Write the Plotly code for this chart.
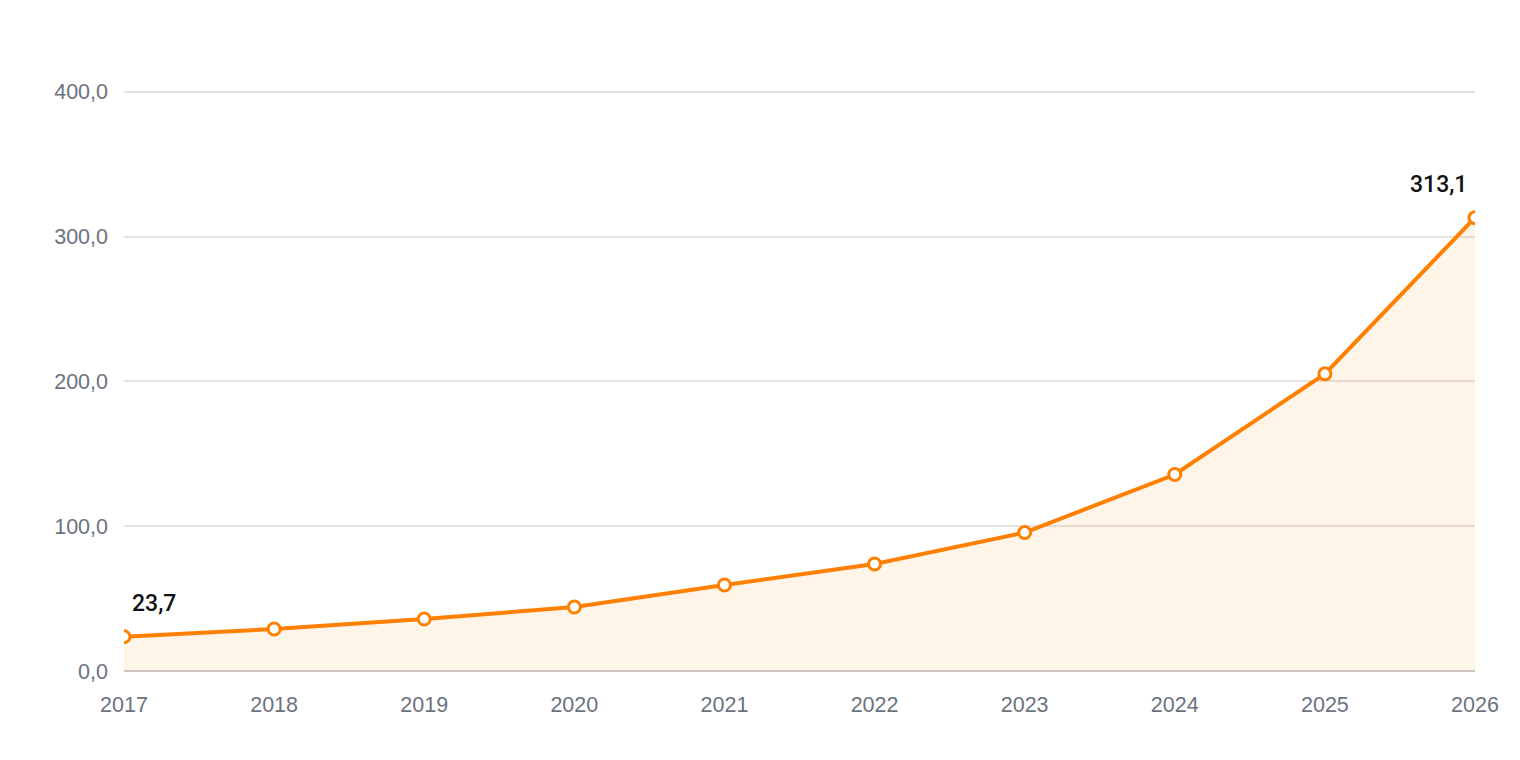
import plotly.graph_objects as go

years = [2017, 2018, 2019, 2020, 2021, 2022, 2023, 2024, 2025, 2026]
values = [23.7, 29.0, 35.9, 44.2, 59.4, 73.9, 95.6, 135.7, 205.2, 313.1]
y_ticks = [0, 100, 200, 300, 400]

orange = "#ff8000"
grey_text = "#6b7280"

fig = go.Figure()
fig.add_trace(go.Scatter(
    x=years, y=values, mode="lines+markers",
    line=dict(color=orange, width=4),
    marker=dict(size=12, color="white", line=dict(color=orange, width=3)),
    fill="tozeroy", fillcolor="rgba(255,128,0,0.09)",
    hoverinfo="x+y",
))

# labels on first and last point only
label_font = dict(size=23, color="#111111", family="Roboto, Liberation Sans, Arial, sans-serif", weight=500)
fig.add_annotation(x=years[0], y=values[0], text=f"{values[0]:.1f}".replace(".", ","),
                   showarrow=False, xanchor="left", yanchor="bottom", xshift=6, yshift=18,
                   font=label_font)
fig.add_annotation(x=years[-1], y=values[-1], text=f"{values[-1]:.1f}".replace(".", ","),
                   showarrow=False, xanchor="right", yanchor="bottom", xshift=-6, yshift=18,
                   font=label_font)

# page body has an 8px margin, so the margins below are shifted to land the plot area
fig.update_layout(
    width=1520, height=760,
    margin=dict(l=116, r=53, t=78, b=97),
    paper_bgcolor="white", plot_bgcolor="white",
    showlegend=False,
    separators=",.",
    font=dict(family="Liberation Sans, Arial, sans-serif", size=21.5, color=grey_text),
)
fig.update_xaxes(
    range=[years[0], years[-1]], tickvals=years, ticktext=[str(y) for y in years],
    showgrid=False, zeroline=False, showline=False, ticks="", ticklen=0,
    tickfont=dict(size=21.5, color=grey_text), ticklabelstandoff=18,
)
fig.update_yaxes(
    range=[0, 404], tickvals=y_ticks, tickformat=".1f",
    showgrid=True, gridcolor="#e3e3e0", gridwidth=1.5,
    zeroline=True, zerolinecolor="#c8c8c8", zerolinewidth=2,
    showline=False, ticks="", ticklabelstandoff=15,
    tickfont=dict(size=21.5, color=grey_text),
)

fig.write_html("out.html")
